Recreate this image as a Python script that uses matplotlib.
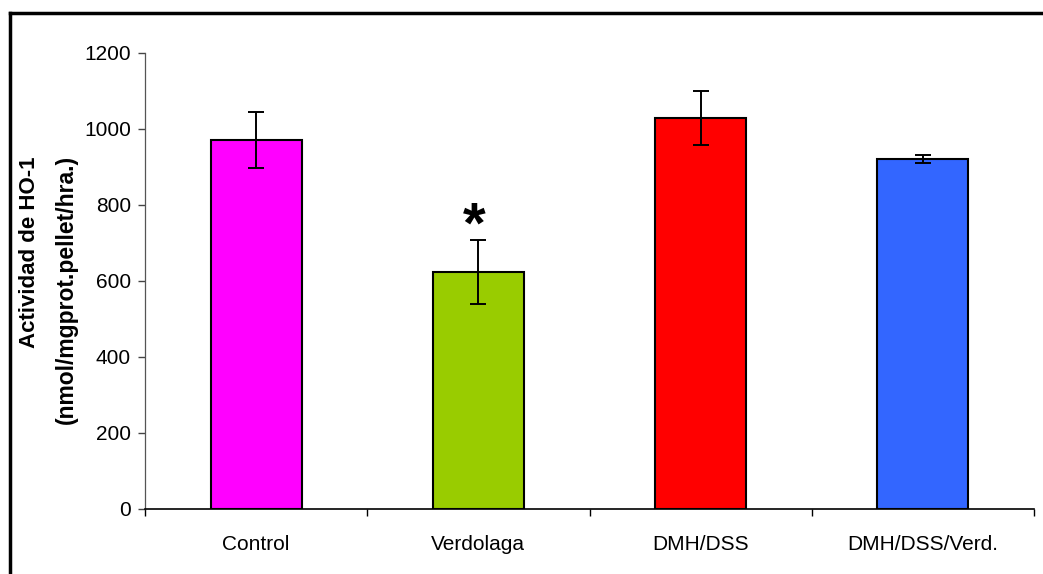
import matplotlib
matplotlib.use("Agg")
import matplotlib.pyplot as plt
from matplotlib.lines import Line2D

plt.rcParams['font.family'] = ['Liberation Sans', 'DejaVu Sans']

# Data
groups = ["Control", "Verdolaga", "DMH/DSS", "DMH/DSS/Verd."]
activity = [971, 624, 1029, 920]
sem = [74, 84, 71, 10]
bar_colors = ["#FF00FF", "#99CC00", "#FF0000", "#3366FF"]
y_ticks = [0, 200, 400, 600, 800, 1000, 1200]
ylabel_1 = "Actividad de HO-1"
ylabel_2 = "(nmol/mgprot.pellet/hra.)"
significant = [False, True, False, False]

W, H = 1043, 574
fig = plt.figure(figsize=(W / 100, H / 100), dpi=100)
ax = fig.add_axes([145 / W, 1 - 508.5 / H, (1034 - 145) / W, (508.5 - 53) / H])

x = list(range(len(groups)))
ax.bar(x, activity, width=0.41, color=bar_colors, edgecolor="black",
       linewidth=1.5, zorder=2)
ax.errorbar(x, activity, yerr=sem, fmt="none", ecolor="black",
            elinewidth=1.4, capsize=5.5, capthick=1.4, zorder=3)

# significance mark above the error bar
for xi, v, e, sig in zip(x, activity, sem, significant):
    if sig:
        ax.text(xi - 0.018, v + e - 40, "*", ha="center", va="bottom",
                fontsize=42, fontweight="bold", zorder=4)

ax.set_xlim(-0.5, len(groups) - 0.5)
ax.set_ylim(0, 1200)
ax.set_yticks(y_ticks)
ax.set_yticklabels([str(t) for t in y_ticks], fontsize=15)
ax.set_xticks(x)
ax.set_xticklabels(groups, fontsize=15)
ax.set_xticks([i - 0.5 for i in range(len(groups) + 1)], minor=True)
ax.tick_params(axis="x", which="major", length=0, pad=19)
ax.tick_params(axis="x", which="minor", length=5, width=1, direction="out")
ax.tick_params(axis="y", length=5, width=1, direction="out", pad=5,
               color="#444444")

for side in ("top", "right"):
    ax.spines[side].set_visible(False)
ax.spines["left"].set_color("#555555")
ax.spines["left"].set_linewidth(0.9)
ax.spines["bottom"].set_color("black")
ax.spines["bottom"].set_linewidth(1.2)

fig.text(30 / W, 1 - 156 / H, ylabel_1, rotation=90, ha="center", va="top",
         fontsize=16, fontweight="bold")
fig.text(66 / W, 1 - 155 / H, ylabel_2, rotation=90, ha="center", va="top",
         fontsize=16.5, fontweight="bold")

# Outer frame (left and top edges)
fig.add_artist(Line2D([10 / W, 10 / W], [0, 1 - 13 / H], transform=fig.transFigure,
                      color="black", linewidth=2.5))
fig.add_artist(Line2D([10 / W, 1], [1 - 13 / H, 1 - 13 / H], transform=fig.transFigure,
                      color="black", linewidth=2.5))

fig.savefig("out.png", dpi=100)
